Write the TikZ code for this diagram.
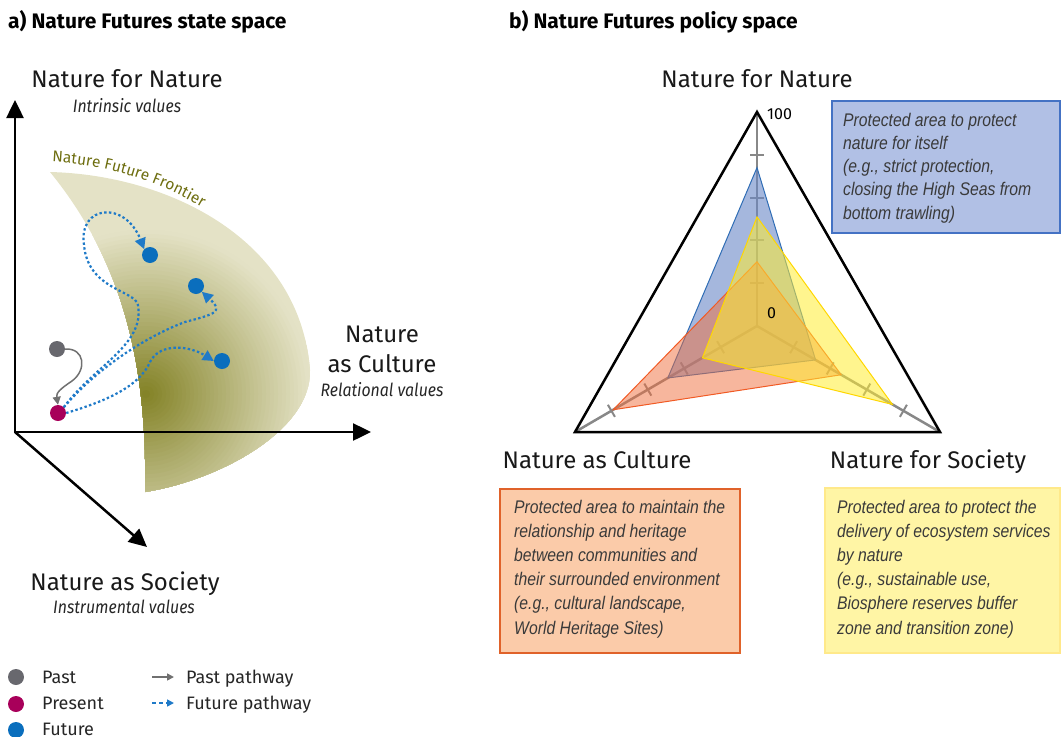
\documentclass[tikz,border=0pt]{standalone}
\usepackage{fontspec}
\setmainfont{Fira Sans}
\newfontfamily\subfont[FakeStretch=0.88]{Fira Sans}
\newfontfamily\boxfont[FakeStretch=0.86]{Liberation Sans}
\usetikzlibrary{arrows.meta,calc,decorations.text}
\definecolor{frontlight}{RGB}{228,226,198}
\definecolor{frontdark}{RGB}{130,129,36}
\definecolor{fronttext}{HTML}{6E6E10}
\definecolor{futblue}{HTML}{0A6EBD}
\definecolor{dashblue}{HTML}{1F7AC8}
\definecolor{presred}{HTML}{A8005A}
\definecolor{pastgray}{HTML}{68686E}
\definecolor{arrgray}{HTML}{707070}
\definecolor{axgray}{HTML}{888888}
\definecolor{polyblue}{RGB}{105,135,198}
\definecolor{polybluedraw}{HTML}{2F6DB5}
\definecolor{polyorange}{RGB}{240,110,60}
\definecolor{polyorangedraw}{HTML}{F15A24}
\definecolor{polyyellow}{RGB}{255,236,50}
\definecolor{polyyellowdraw}{HTML}{FFD700}
\definecolor{bboxfill}{HTML}{B1C0E5}
\definecolor{bboxdraw}{HTML}{4472C4}
\definecolor{oboxfill}{HTML}{FBCBA9}
\definecolor{oboxdraw}{HTML}{E0622A}
\definecolor{yboxfill}{HTML}{FFF5A5}
\definecolor{yboxdraw}{HTML}{FFE98A}
\definecolor{boxtext}{HTML}{3A3A3A}
\begin{document}
\begin{tikzpicture}[x=1pt,y=-1pt,
  titlestyle/.style={font=\bfseries\fontsize{21}{21}\selectfont, inner sep=0, anchor=base west},
  lab/.style={font=\fontsize{24}{24}\selectfont, inner sep=0, anchor=base, text=black!90},
  sublab/.style={font=\subfont\itshape\fontsize{18}{18}\selectfont, inner sep=0, anchor=base, text=black!85},
  leg/.style={font=\fontsize{18}{18}\selectfont, inner sep=0, anchor=base west, text=black!85},
  num/.style={font=\fontsize{16}{16}\selectfont, inner sep=0, anchor=base west},
  boxline/.style={font=\boxfont\itshape\fontsize{18.3}{18.3}\selectfont, inner sep=0, anchor=base west, text=boxtext},
  axisline/.style={line width=2.5pt, black},
  bigtip/.style={-{Triangle[length=18pt,width=17pt]}},
  fut/.style={dashblue, line width=2.2pt, dash pattern=on 2.4pt off 2.4pt, -{Triangle[length=11pt,width=11pt]}},
  pastarr/.style={arrgray, line width=1.5pt, -{Triangle[length=8pt,width=8pt]}},
  dotstyle/.style={circle, inner sep=0, minimum size=16pt},
  tickline/.style={axgray, line width=2pt},
]
\useasboundingbox (0,0) rectangle (1062,736);

% titles
\node[titlestyle] (ta) at (8,28) {a) Nature Futures state space};
\node[titlestyle] (tb) at (509,28) {b) Nature Futures policy space};

% ---------- panel a ----------
\begin{scope}
  \clip (50,172) .. controls (170,175) and (300,240) .. (310,370) .. controls (312,430) and (220,480) .. (145,492) .. controls (147,380) and (130,270) .. (50,172) -- cycle;
  \fill[frontlight] (0,100) rectangle (400,560);
  \foreach \r in {168,164,...,4}{
    \pgfmathsetmacro\p{min(100,\r/165*100)}
    \fill[frontlight!\p!frontdark] (146,394) circle (\r);
  }
\end{scope}
\path[decorate, decoration={text along path, text align=left,
  text={|\color{fronttext}\fontsize{15.5}{15.5}\selectfont|Nature Future Frontier}}]
  (52,162) .. controls (110,165) and (168,183) .. (222,220);

\coordinate (orig) at (15,432);
\coordinate (ytip) at (15,100);
\coordinate (xtip) at (371,432);
\coordinate (ztip) at (147,547);
\draw[axisline, bigtip] (orig) -- (ytip);
\draw[axisline, bigtip] (13.75,432) -- (xtip);
\draw[axisline, bigtip] (orig) -- (ztip);

\node[lab] (nfn) at (127,87) {Nature for Nature};
\node[sublab] (iv) at (127,112) {Intrinsic values};
\node[lab] (nac1) at (382,342) {Nature};
\node[lab] (nac2) at (382,372) {as Culture};
\node[sublab] (rv) at (382,396) {Relational values};
\node[lab] (nas) at (125,590) {Nature as Society};
\node[sublab] (insv) at (124,613) {Instrumental values};

% points
\node[dotstyle, fill=pastgray] (past) at (57,349) {};
\node[dotstyle, fill=presred] (pres) at (58,413) {};
\node[dotstyle, fill=futblue] (f1) at (150,255) {};
\node[dotstyle, fill=futblue] (f2) at (196,286) {};
\node[dotstyle, fill=futblue] (f3) at (222,361) {};

\draw[pastarr] (past.east) .. controls (85,348) and (87,370) .. (72,381) .. controls (60,389) and (56,393) .. (pres.north);

\draw[fut] (pres.north east) .. controls (95,365) and (145,345) .. (138,305)
  .. controls (135,290) and (88,290) .. (84,245)
  .. controls (78,205) and (125,200) .. (f1.north west);
\draw[fut] (pres.north east) .. controls (100,365) and (150,335) .. (185,322)
  .. controls (215,314) and (224,312) .. (f2.south east);
\draw[fut] (pres.east) .. controls (110,400) and (140,385) .. (150,362)
  .. controls (160,342) and (190,346) .. (f3.west);

% legend
\node[dotstyle, fill=pastgray] (lgpast) at (16,677) {};
\node[dotstyle, fill=presred] (lgpres) at (16,704) {};
\node[dotstyle, fill=futblue] (lgfut) at (16,730) {};
\node[leg] (tpast) at (42,683) {Past};
\node[leg] (tpres) at (42,709) {Present};
\node[leg] (tfut) at (42,735) {Future};
\coordinate (pa1) at (152,677);
\coordinate (pa2) at (174,677);
\coordinate (fa1) at (152,703);
\coordinate (fa2) at (174,703);
\draw[arrgray, line width=1.5pt, -{Triangle[length=7pt,width=7pt]}] (pa1) -- (pa2);
\draw[dashblue, line width=1.5pt, dash pattern=on 4pt off 3pt, -{Triangle[length=7pt,width=7pt]}] (fa1) -- (fa2);
\node[leg] (tpp) at (186,683) {Past pathway};
\node[leg] (tfp) at (186,709) {Future pathway};

% ---------- panel b ----------
\coordinate (A) at (757,112);
\coordinate (L) at (575,432);
\coordinate (R) at (940,432);
\coordinate (O) at (757,326);

\foreach \v in {A,L,R}{
  \draw[axgray, line width=2.5pt] (O) -- (\v);
  \foreach \f in {0.2,0.4,0.6,0.8}
    \draw[tickline] ($(O)!\f!(\v)!7pt!90:(\v)$) -- ($(O)!\f!(\v)!7pt!-90:(\v)$);
}

\fill[polyblue, fill opacity=0.6] ($(O)!0.74!(A)$) -- ($(O)!0.49!(L)$) -- ($(O)!0.32!(R)$) -- cycle;
\draw[polybluedraw, line width=1pt] ($(O)!0.74!(A)$) -- ($(O)!0.49!(L)$) -- ($(O)!0.32!(R)$) -- cycle;
\fill[polyorange, fill opacity=0.5] ($(O)!0.30!(A)$) -- ($(O)!0.79!(L)$) -- ($(O)!0.46!(R)$) -- cycle;
\draw[polyorangedraw, line width=1pt] ($(O)!0.30!(A)$) -- ($(O)!0.79!(L)$) -- ($(O)!0.46!(R)$) -- cycle;
\fill[polyyellow, fill opacity=0.55] ($(O)!0.51!(A)$) -- ($(O)!0.30!(L)$) -- ($(O)!0.74!(R)$) -- cycle;
\draw[polyyellowdraw, line width=1pt] ($(O)!0.51!(A)$) -- ($(O)!0.30!(L)$) -- ($(O)!0.74!(R)$) -- cycle;

\draw[black, line width=2.5pt, line join=miter] (A) -- (L) -- (R) -- cycle;

\node[num] (n100) at (767,119) {100};
\node[num] (n0) at (767,318) {0};

\node[lab] (rnfn) at (757,87) {Nature for Nature};
\node[lab] (rnac) at (597,468) {Nature as Culture};
\node[lab] (rnfs) at (928,468) {Nature for Society};

% boxes
\draw[bboxdraw, fill=bboxfill, line width=1.2pt] (832,101) rectangle (1060,233);
\foreach \t [count=\i] in {Protected area to protect, nature for itself, {(e.g., strict protection,}, closing the High Seas from, bottom trawling)}
  \node[boxline] (bl\i) at (843,{126+23.3*(\i-1)}) {\t};

\draw[oboxdraw, fill=oboxfill, line width=1.2pt] (500,489) rectangle (740,653);
\foreach \t [count=\i] in {Protected area to maintain the, relationship and heritage, between communities and, their surrounded environment, {(e.g., cultural landscape,}, World Heritage Sites)}
  \node[boxline] (ol\i) at (514,{513+24.2*(\i-1)}) {\t};

\draw[yboxdraw, fill=yboxfill, line width=1.2pt] (825,488) rectangle (1060,653);
\foreach \t [count=\i] in {Protected area to protect the, delivery of ecosystem services, by nature, {(e.g., sustainable use,}, Biosphere reserves buffer, zone and transition zone)}
  \node[boxline] (yl\i) at (837,{513+24.2*(\i-1)}) {\t};

\end{tikzpicture}
\end{document}
